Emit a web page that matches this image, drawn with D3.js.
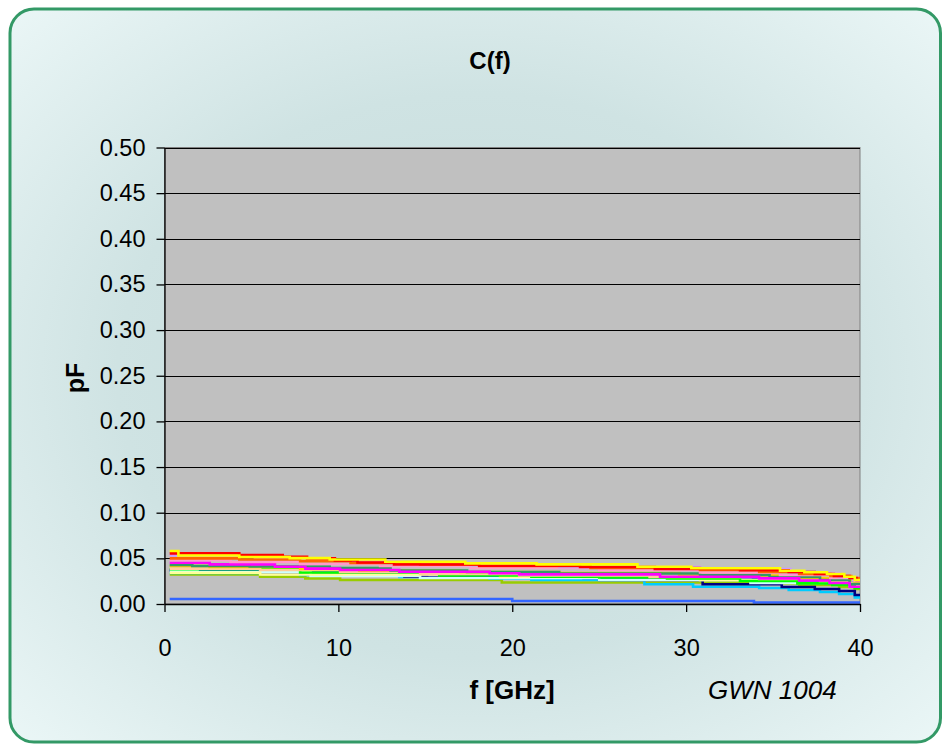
<!DOCTYPE html>
<html>
<head>
<meta charset="utf-8">
<script src="https://cdn.jsdelivr.net/npm/d3@7/dist/d3.min.js"></script>
<style>
  html, body { margin: 0; padding: 0; background: #ffffff; }
  svg { display: block; }
  text { font-family: "Liberation Sans", Arial, sans-serif; fill: #000; }
</style>
</head>
<body>
<svg id="chart" width="942" height="744"></svg>
<script>
// Capacitance vs. frequency, step traces: [f in GHz, C in pF] breakpoints
const xTicks = [0, 10, 20, 30, 40];
const yTicks = [0, 0.05, 0.10, 0.15, 0.20, 0.25, 0.30, 0.35, 0.40, 0.45, 0.50];

const cBlue = [[0.3,.0055],[20,.0033],[33.9,.0016]];
const cYellowGreen = [[0.3,.0325],[5.5,.0299],[8.1,.0281],[10.1,.0263],[19.4,.0235],[35.4,.0224],[36.5,.0208],[38.8,.0186],[39.7,.0164]];
const cSky = [[0.3,.0339],[7.8,.0317],[13.5,.0295],[15.1,.0288],[18.7,.0281],[21.1,.0263],[27.6,.0216],[30.4,.0189],[34.2,.0175],[35.9,.0153],[37.7,.0131],[38.8,.0109],[39.7,.0073]];
const cNavy = [[0.3,.0364],[2.6,.0345],[9.5,.0328],[13.8,.0299],[15.1,.0290],[25,.0263],[30.95,.0216],[35.5,.0186],[37.4,.0164],[38.8,.0142],[39.7,.0098]];
const cRoyal = [[0.3,.0372],[6,.0350],[12,.0328],[17,.0306],[23.2,.0295],[24.1,.0284],[30,.0274],[35,.0252],[38,.0230],[39.7,.0197]];
const cPaleCyan = [[0.3,.0361],[1.9,.0350],[8.4,.0306],[14.7,.0284],[25,.0263],[33.7,.0230],[39.4,.0197]];
const cLightYellow = [[0.3,.0342],[5.5,.0323],[19.3,.0295],[30.8,.0263],[39.4,.0208]];
const cGreen = [[0.3,.0380],[7.8,.0345],[15.8,.0312],[21.1,.0299],[25,.0290],[28.9,.0281],[33.1,.0252],[36.4,.0226],[38.4,.0208],[39.7,.0175]];
const cTan = [[0.3,.0388],[5.5,.0372],[10.1,.0350],[14.7,.0328],[20.4,.0312],[27.9,.0295],[34.2,.0274],[37.7,.0252],[39.4,.0230]];
const cGold = [[0.3,.0416],[2.6,.0405],[7.8,.0383],[11.2,.0367],[17,.0350],[22.7,.0339],[29.6,.0312],[35.4,.0284],[38.25,.0263],[39.7,.0230]];
const cDarkGreen = [[0.3,.0427],[1.6,.0416],[4.9,.0410],[9.5,.0394],[13,.0367],[17.4,.0350],[22.7,.0334],[30.8,.0317],[34.8,.0295],[37.7,.0263],[39.4,.0219]];
const cMagenta = [[0.3,.0452],[2.6,.0434],[6.35,.0408],[8.1,.0388],[10.1,.0372],[13.5,.0353],[18.7,.0336],[20.4,.0325],[28.5,.0299],[34.2,.0281],[36.5,.0257],[38.25,.0230],[39.4,.0189]];
const cRose = [[0.3,.0481],[3.8,.0460],[7.8,.0438],[12.4,.0416],[17.6,.0394],[25,.0372],[30.8,.0345],[35.4,.0317],[38.3,.0284],[39.7,.0252]];
const cLavender = [[0.3,.0533],[1.75,.0514],[5.2,.0492],[9.5,.0470],[13.5,.0443],[17.6,.0427],[22.7,.0405],[30.8,.0383],[36,.0339],[38.8,.0295],[39.6,.0263]];
const cOrange = [[0.3,.0500],[4.3,.0487],[7.8,.0470],[10.7,.0449],[14.7,.0432],[18.1,.0416],[24.5,.0394],[30.8,.0372],[34.2,.0350],[36.5,.0328],[38.3,.0306],[39.5,.0284]];
const cRed = [[0.3,.0555],[4.3,.0536],[6.8,.0518],[8.2,.0500],[9.8,.0476],[11.1,.0454],[13.2,.0432],[18.1,.0419],[23.9,.0405],[28.2,.0383],[33.1,.0369],[35.9,.0350],[37.4,.0328],[38.5,.0306],[39.4,.0284],[39.8,.0263]];
const cYellow = [[0.3,.0580],[0.8,.0531],[4.3,.0514],[7.2,.0503],[9.5,.0487],[12.7,.0463],[17.3,.0445],[21.4,.0434],[27.2,.0408],[30.3,.0391],[35.4,.0364],[36.8,.0347],[38.1,.0328],[39.1,.0299],[39.7,.0263]];

// drawing order (bottom to top) and trace colours
const traces = [
  { data: cBlue,        color: "#3366FF" },
  { data: cYellowGreen, color: "#99CC00" },
  { data: cSky,         color: "#00CCFF" },
  { data: cNavy,        color: "#000080" },
  { data: cRoyal,       color: "#0000FF" },
  { data: cPaleCyan,    color: "#CCFFFF" },
  { data: cLightYellow, color: "#FFFF99" },
  { data: cGreen,       color: "#00FF00" },
  { data: cTan,         color: "#FFCC99" },
  { data: cGold,        color: "#FFCC00" },
  { data: cDarkGreen,   color: "#339966" },
  { data: cMagenta,     color: "#FF00FF" },
  { data: cRose,        color: "#FF99CC" },
  { data: cLavender,    color: "#CC99FF" },
  { data: cOrange,      color: "#FF6600" },
  { data: cRed,         color: "#FF0000" },
  { data: cYellow,      color: "#FFFF00" }
];

const svg = d3.select("#chart");

// frame background
const defs = svg.append("defs");
const grad = defs.append("radialGradient")
  .attr("id", "bg").attr("cx", "50%").attr("cy", "50%").attr("r", "70%");
grad.append("stop").attr("offset", "0%").attr("stop-color", "#c4dada");
grad.append("stop").attr("offset", "55%").attr("stop-color", "#cfe3e3");
grad.append("stop").attr("offset", "100%").attr("stop-color", "#eaf6f6");

svg.append("rect")
  .attr("x", 10).attr("y", 9).attr("width", 930.5).attr("height", 733)
  .attr("rx", 24).attr("ry", 24)
  .attr("fill", "url(#bg)").attr("stroke", "#339966").attr("stroke-width", 3);

const x = d3.scaleLinear().domain([0, 40]).range([164.5, 860]);
const y = d3.scaleLinear().domain([0, 0.5]).range([604, 147.5]);

// plot area
svg.append("rect")
  .attr("x", x(0)).attr("y", y(0.5))
  .attr("width", x(40) - x(0)).attr("height", y(0) - y(0.5))
  .attr("fill", "#c0c0c0").attr("stroke", "#808080").attr("stroke-width", 1);

// horizontal gridlines
svg.append("g").selectAll("line")
  .data(yTicks.filter(d => d > 0))
  .join("line")
  .attr("x1", x(0)).attr("x2", x(40))
  .attr("y1", d => Math.round(y(d)) + 0.5).attr("y2", d => Math.round(y(d)) + 0.5)
  .attr("stroke", "#000").attr("stroke-width", 1);

// traces
const line = d3.line()
  .x(d => x(d[0])).y(d => y(d[1]))
  .curve(d3.curveStepAfter);

svg.append("g").selectAll("path")
  .data(traces)
  .join("path")
  .attr("d", t => line(t.data.concat([[40, t.data[t.data.length - 1][1]]])))
  .attr("fill", "none")
  .attr("stroke", t => t.color)
  .attr("stroke-width", 2.6);

// axes
const yAxis = d3.axisLeft(y).tickValues(yTicks).tickSize(8).tickSizeOuter(0)
  .tickPadding(11).tickFormat(d3.format(".2f"));
const gy = svg.append("g").attr("transform", `translate(${x(0)},0)`).call(yAxis);

const xAxis = d3.axisBottom(x).tickValues(xTicks).tickSize(8).tickSizeOuter(0)
  .tickPadding(27).tickFormat(d3.format("d"));
const gx = svg.append("g").attr("transform", `translate(0,${y(0)})`).call(xAxis);

[gx, gy].forEach(g => {
  g.select(".domain").attr("stroke", "#000").attr("stroke-width", 1.3);
  g.selectAll(".tick line").attr("stroke", "#000").attr("stroke-width", 1.3);
  g.selectAll(".tick text")
    .attr("font-family", "'Liberation Sans', Arial, sans-serif")
    .attr("font-size", 23.5).attr("fill", "#000");
});

// titles
svg.append("text")
  .attr("x", 490).attr("y", 69).attr("text-anchor", "middle")
  .attr("font-size", 24).attr("font-weight", "bold").text("C(f)");

svg.append("text")
  .attr("transform", "translate(84,378) rotate(-90)")
  .attr("text-anchor", "middle")
  .attr("font-size", 25).attr("font-weight", "bold").text("pF");

svg.append("text")
  .attr("x", 512).attr("y", 699).attr("text-anchor", "middle")
  .attr("font-size", 26).attr("font-weight", "bold").text("f [GHz]");

svg.append("text")
  .attr("x", 708).attr("y", 699)
  .attr("font-size", 26).attr("font-style", "italic").text("GWN 1004");
</script>
</body>
</html>
